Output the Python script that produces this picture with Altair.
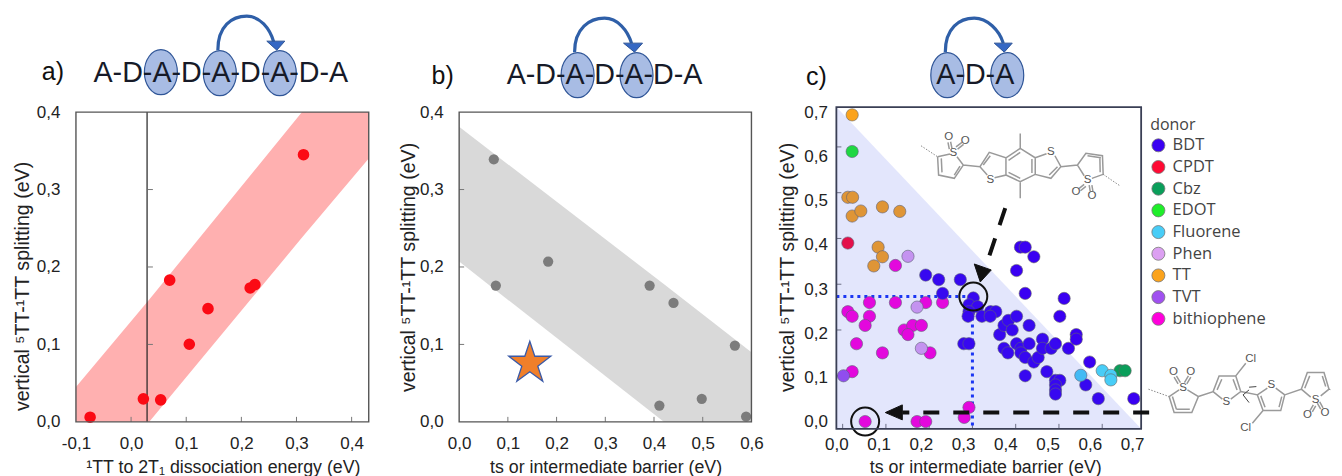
import altair as alt
import pandas as pd

FONT = "Liberation Sans"
H = 460
OA, OB, OC = 8, 390, 770
WA, WB, WC = 382, 380, 564
COMMA = "replace(replace(format(datum.value,'.1f'),'.',','),'\u2212','-')"

# panel a
a_x = [-0.0743, 0.0223, 0.0537, 0.070, 0.1056, 0.1395, 0.216, 0.2246, 0.3127]
a_y = [0.006, 0.0297, 0.0284, 0.183, 0.1002, 0.1462, 0.1729, 0.1772, 0.345]
a_band_x = [-0.1, 0.033, 0.31, 0.431]
a_band_hi = [0.045, 0.158, 0.4, 0.4]
a_band_lo = [0.0, 0.0, 0.238, 0.34]

# panel b
b_x = [0.0711, 0.0753, 0.1827, 0.391, 0.44, 0.566, 0.411, 0.498, 0.589]
b_y = [0.339, 0.176, 0.207, 0.176, 0.1535, 0.0985, 0.021, 0.0297, 0.0069]
b_band_x = [0.0, 0.42, 0.6]
b_band_hi = [0.381, 0.178, 0.09]
b_band_lo = [0.207, 0.0, 0.0]
star_x = [0.145]
star_y = [0.0757]

# panel c
donors = ["BDT", "CPDT", "Cbz", "EDOT", "Fluorene", "Phen", "TT", "TVT", "bithiophene"]
donor_colors = ["#3a00f2", "#ff0a33", "#0a9e5a", "#1fee2a", "#48cdf7", "#dca0f2", "#fba31c", "#a050f0", "#ff00dc"]
c_points = {
    "bithiophene": [(.122,.341),(.062,.260),(.122,.260),(.192,.260),(.231,.260),(.012,.240),(.022,.230),
                    (.062,.230),(.052,.210),(.142,.200),(.162,.210),(.182,.210),(.151,.190),(.032,.170),
                    (.092,.150),(.202,.150),(.022,.109),(.052,0),(.172,0),(.192,0),(.292,.031),(.281,.009)],
    "TT": [(.022,.670),(.012,.490),(.023,.490),(.022,.449),(.042,.460),(.092,.469),(.132,.459),(.082,.381),
           (.092,.360),(.072,.340)],
    "EDOT": [(.022,.590)],
    "CPDT": [(.012,.390)],
    "Phen": [(.151,.361),(.172,.250),(.182,.160)],
    "TVT": [(.002,.100)],
    "BDT": [(.192,.320),(.222,.310),(.272,.310),(.231,.280),(.302,.270),(.292,.255),(.312,.251),(.292,.240),
            (.290,.230),(.322,.230),(.342,.240),(.354,.240),(.341,.230),(.280,.170),(.292,.170),(.363,.190),
            (.373,.210),(.383,.221),(.392,.200),(.402,.230),(.431,.210),(.373,.160),(.382,.150),(.402,.170),
            (.412,.160),(.412,.150),(.422,.140),(.431,.170),(.442,.130),(.452,.140),(.462,.180),(.462,.160),
            (.482,.160),(.492,.170),(.472,.109),(.422,.100),(.492,.090),(.502,.090),(.492,.080),(.492,.069),
            (.492,.060),(.402,.330),(.411,.381),(.422,.381),(.442,.360),(.422,.280),(.512,.269),(.502,.230),
            (.522,.160),(.540,.190),(.540,.180),(.571,.130),(.562,.080),(.591,.050),(.673,.050)],
    "Cbz": [(.641,.111),(.653,.111)],
    "Fluorene": [(.5505,.101),(.600,.111),(.62,.101),(.62,.091)],
}

# decoration outlines, in reference pixels
ARC_A = "M218,50 C218,26 232,16 247,16 C260,16 270,28 274,42"
ARC_B = "M575,52 C575,28 590,18 605,18 C618,18 628,30 632,43"
ARC_C = "M946,52 C946,28 960,18 975,18 C988,18 1000,30 1004,43"
HEAD_A = [(267,41),(285,41),(277,50)]
HEAD_B = [(624,43),(643,43),(635,52)]
HEAD_C = [(995,43),(1013,43),(1005,52)]
ELL_A = [(161,72),(220,73),(280,73)]
ELL_B = [(578,75),(637,75)]
ELL_C = [(948,75),(1008,75)]

M1_O = (910, 115)
M1_BONDS = [
    [(85,125),(122,117)], [(85,125),(88,180),(135,190),(162,150),(143,125)],
    [(96,130),(98,172)], [(135,180),(152,153)],
    [(162,150),(212,155),(240,112),(290,128),(290,180),(256,188)], [(234,180),(212,155)],
    [(222,150),(243,122)], [(290,128),(333,100),(378,128),(378,178),(333,200),(290,180)],
    [(298,136),(333,112)], [(368,132),(368,174)], [(298,172),(333,190)],
    [(333,100),(333,55)], [(333,200),(333,250)],
    [(378,128),(412,116)], [(437,122),(455,155),(425,190),(378,178)], [(445,155),(420,180)],
    [(455,155),(505,150),(530,115),(580,122),(582,178),(548,190)], [(505,150),(525,182)],
    [(535,122),(575,128)], [(572,130),(573,172)],
    [(124,80),(128,100)], [(116,82),(120,102)], [(158,82),(140,95)], [(163,88),(145,102)],
    [(510,220),(525,208)], [(514,227),(530,214)], [(543,228),(540,210)], [(551,228),(548,210)],
]
M1_DOTS = [[(35,92),(85,125)], [(582,178),(632,212)]]
M1_ATOMS = [("S",132,115),("O",118,65),("O",168,77),("S",243,195),("S",425,112),("S",535,195),("O",500,230),("O",548,242)]

M2_O = (1140, 340)
M2_BONDS = [
    [(90,170),(120,150)], [(145,150),(178,170),(158,218),(105,218),(90,170)], [(112,208),(152,208)], [(100,170),(112,208)],
    [(178,170),(222,155),(240,108),(290,108),(305,155),(275,178)], [(222,155),(250,178)],
    [(234,150),(248,118)], [(282,118),(294,150)], [(290,108),(320,70)],
    [(305,155),(355,165),(372,212),(425,212),(437,165),(410,145)], [(355,165),(385,145)],
    [(365,168),(378,202)], [(420,202),(428,170)], [(372,212),(340,250)],
    [(437,165),(487,148),(505,98),(555,98),(570,148),(545,168)], [(487,148),(515,172)],
    [(497,145),(512,108)], [(550,108),(560,140)],
    [(112,108),(124,128)], [(105,112),(117,132)], [(148,108),(136,128)], [(155,112),(143,132)],
    [(513,212),(523,195)], [(520,216),(530,198)], [(545,208),(535,190)], [(552,204),(542,186)],
]
M2_CURL = [[(330,150),(312,165),(330,188)], [(330,142),(352,140)]]
M2_DOTS = [[(28,148),(90,170)], [(570,148),(577,150)]]
M2_ATOMS = [("S",132,143),("O",103,95),("O",155,95),("S",262,187),("Cl",335,58),("S",397,135),("Cl",320,265),("S",530,180),("O",505,225),("O",558,218)]

one = pd.DataFrame({"a": [0]})


def fx(px, ox):
    return px - ox


def fy(py):
    return py - 8


def poly(pts, ox, close=False):
    s = "M" + " L".join(f"{fx(x, ox):.1f},{fy(y):.1f}" for x, y in pts)
    return s + (" Z" if close else "")


def zoomed(lines, origin, ox):
    return " ".join(poly([(origin[0]+x/3, origin[1]+y/3) for x, y in l], ox) for l in lines)


def shifted(path, ox):
    out = []
    for tok in path.replace("M", "M ").replace("C", "C ").split():
        if "," in tok:
            x, y = tok.split(",")
            out.append(f"{fx(float(x), ox):.1f},{fy(float(y)):.1f}")
        else:
            out.append(tok)
    return " ".join(out)


def shape(path, **kw):
    return alt.Chart(one).mark_point(shape=path, size=4, opacity=1, **kw).encode(x=alt.value(0), y=alt.value(0))


def txt(s, px, py, ox, size, color="#111", font=FONT, align="center"):
    return alt.Chart(one).mark_text(text=s, fontSize=size, font=font, color=color, align=align, baseline="middle").encode(
        x=alt.value(fx(px, ox)), y=alt.value(fy(py)))


def ellipse(cx, cy, ox, rx=16.5, ry=22.5):
    x, y = fx(cx, ox), fy(cy)
    return f"M{x-rx},{y} A{rx},{ry} 0 1,1 {x+rx},{y} A{rx},{ry} 0 1,1 {x-rx},{y} Z"


def schematic(label, lx, ly, chain, cx, cy, ells, arc, head, ox):
    ls = [txt(label, lx, ly, ox, 25)]
    for ex, ey in ells:
        ls.append(shape(ellipse(ex, ey, ox), filled=True, fill="#a8bce4", stroke="#2f5597", strokeWidth=1.2))
    ls.append(txt(chain, cx, cy, ox, 28.7, color="#161a28"))
    ls.append(shape(shifted(arc, ox), filled=False, stroke="#2f5fa8", strokeWidth=3.2))
    ls.append(shape(poly(head, ox, True), filled=True, fill="#3568c4", stroke="#2f5597", strokeWidth=1))
    return ls


def ticks_x(vals, X, ybase):
    return alt.Chart(pd.DataFrame({"v": vals})).mark_rule(color="#777", strokeWidth=1).encode(
        x=X("v"), y=alt.value(fy(ybase)), y2=alt.value(fy(ybase)-5))


def ticks_y(vals, Y, xbase, ox):
    return alt.Chart(pd.DataFrame({"v": vals})).mark_rule(color="#777", strokeWidth=1).encode(
        y=Y("v"), x=alt.value(fx(xbase, ox)), x2=alt.value(fx(xbase, ox)+5))


TFX = 17.8
TFY = 19.6
LF = 17


def axis_x(title, tx, vals, off, pad, ty):
    return alt.Axis(title=title, values=vals, offset=off, domain=False, ticks=False, grid=False, labelExpr=COMMA,
                    labelFont=FONT, labelFontSize=LF, labelColor="#222", labelPadding=pad, labelOverlap=False,
                    labelFlush=False, titleFont=FONT, titleFontSize=TFX,
                    titleFontWeight="normal", titleColor="#222", titleX=tx, titleY=ty)


def axis_y(title, tx, ty, vals, off, pad=16):
    return alt.Axis(title=title, values=vals, offset=off, domain=False, ticks=False, grid=False, labelExpr=COMMA,
                    labelFont=FONT, labelFontSize=LF, labelColor="#222", labelPadding=pad, labelOverlap=False,
                    labelFlush=False, titleFont=FONT, titleFontSize=TFY, titleFontWeight="normal", titleColor="#222",
                    titleX=tx, titleY=ty)


def helpers(sx, sy):
    def X(f, **k):
        return alt.X(f, type="quantitative", scale=sx, axis=k.get("axis"))
    def Y(f, **k):
        return alt.Y(f, type="quantitative", scale=sy, axis=k.get("axis"))
    return X, Y


def frame(X, Y, dx, dy, color, width):
    df = pd.DataFrame({"x0": [dx[0]], "x1": [dx[1]], "y0": [dy[0]], "y1": [dy[1]]})
    return alt.Chart(df).mark_rect(fillOpacity=0, stroke=color, strokeWidth=width).encode(
        x=X("x0"), x2="x1", y=Y("y0"), y2="y1")


def holder(X, Y, dx, dy, ax, ay):
    df = pd.DataFrame({"x": dx, "y": dy})
    return alt.Chart(df).mark_point(opacity=0).encode(x=X("x", axis=ax), y=Y("y", axis=ay))


YTITLE = "vertical \u2075TT-\u00b9TT splitting (eV)"

# ------ a
dxa, dya = [-0.1, 0.431], [0, 0.4]
Xa, Ya = helpers(alt.Scale(domain=dxa, range=[fx(76, OA), fx(369, OA)], nice=False, zero=False),
                 alt.Scale(domain=dya, range=[fy(422), fy(112)], nice=False, zero=False))
band_a = alt.Chart(pd.DataFrame({"x": a_band_x, "h": a_band_hi, "l": a_band_lo})).mark_area(color="#ffb0b0").encode(
    x=Xa("x"), y=Ya("h"), y2="l")
line_a = alt.Chart(pd.DataFrame({"v": [0.029], "y0": [0], "y1": [0.4]})).mark_rule(color="#222", strokeWidth=1.2).encode(
    x=Xa("v"), y=Ya("y0"), y2="y1")
pts_a = alt.Chart(pd.DataFrame({"x": a_x, "y": a_y})).mark_point(filled=True, size=135, color="#fb0a14", opacity=1).encode(
    x=Xa("x"), y=Ya("y"))
panel_a = alt.layer(
    holder(Xa, Ya, dxa, dya,
           axis_x("\u00b9TT to 2T\u2081 dissociation energy (eV)", fx(223, OA), [-.1, 0, .1, .2, .3, .4], -(H-fy(422)), 14, 37),
           axis_y(YTITLE, -43, fy(286), [0, .1, .2, .3, .4], -fx(76, OA))),
    band_a, line_a,
    ticks_x([0, .1, .2, .3, .4], Xa, 422), ticks_y([.1, .2, .3], Ya, 148, OA), pts_a,
    frame(Xa, Ya, dxa, dya, "#555", 1.4),
    *schematic("a)", 53, 72, "A-D-A-D-A-D-A-D-A", 221, 73, ELL_A, ARC_A, HEAD_A, OA),
).resolve_axis(x="independent", y="independent").properties(width=WA, height=H)

# ------ b
dxb, dyb = [0, 0.6], [0, 0.4]
Xb, Yb = helpers(alt.Scale(domain=dxb, range=[fx(459.5, OB), fx(752, OB)], nice=False, zero=False),
                 alt.Scale(domain=dyb, range=[fy(422), fy(112)], nice=False, zero=False))
band_b = alt.Chart(pd.DataFrame({"x": b_band_x, "h": b_band_hi, "l": b_band_lo})).mark_area(color="#d9d9d9").encode(
    x=Xb("x"), y=Yb("h"), y2="l")
pts_b = alt.Chart(pd.DataFrame({"x": b_x, "y": b_y})).mark_point(filled=True, size=105, color="#7c7c7c", opacity=1).encode(
    x=Xb("x"), y=Yb("y"))
STAR = "M0,-22 L5,-7 L21,-7 L8,3 L13,18 L0,8.5 L-13,18 L-8,3 L-21,-7 L-5,-7 Z"
star = alt.Chart(pd.DataFrame({"x": star_x, "y": star_y})).mark_point(
    shape=STAR, size=4, filled=True, fill="#f07f2a", stroke="#3a5aa8", strokeWidth=1.3, opacity=1).encode(
    x=Xb("x"), y=Yb("y"))
panel_b = alt.layer(
    holder(Xb, Yb, dxb, dyb,
           axis_x("ts or intermediate barrier (eV)", fx(606, OB), [0, .1, .2, .3, .4, .5, .6], -(H-fy(422)), 14, 37),
           axis_y(YTITLE, -41, fy(267), [0, .1, .2, .3, .4], -fx(459.5, OB))),
    band_b, ticks_x([.1, .2, .3, .4, .5], Xb, 422), ticks_y([.1, .2, .3], Yb, 459.5, OB), pts_b, star,
    frame(Xb, Yb, dxb, dyb, "#555", 1.4),
    *schematic("b)", 443, 76, "A-D-A-D-A-D-A", 605, 75, ELL_B, ARC_B, HEAD_B, OB),
).resolve_axis(x="independent", y="independent").properties(width=WB, height=H)

# ------ c
dxc, dyc = [-0.0145, 0.69], [-0.016, 0.687]
Xc, Yc = helpers(alt.Scale(domain=dxc, range=[fx(837, OC), fx(1142, OC)], nice=False, zero=False),
                 alt.Scale(domain=dyc, range=[fy(429), fy(107)], nice=False, zero=False))
rows = [(d, x, y) for d, pts in c_points.items() for x, y in pts]
df_c = pd.DataFrame(rows, columns=["donor", "x", "y"])
pts_c = alt.Chart(df_c).mark_point(filled=True, size=150, opacity=1, stroke="#666", strokeWidth=0.6).encode(
    x=Xc("x"), y=Yc("y"),
    color=alt.Color("donor:N", scale=alt.Scale(domain=donors, range=donor_colors),
                    legend=alt.Legend(orient="none", legendX=1151-8, legendY=117-8, title="donor",
                                      titleFont="Open Sans", titleFontSize=16, titleFontWeight="normal",
                                      titleColor="#444", labelFont="Open Sans", labelFontSize=16.5, labelColor="#444",
                                      symbolType="circle", symbolSize=170, symbolStrokeWidth=0.8,
                                      symbolStrokeColor="#777", rowPadding=4.7, labelOffset=6, titlePadding=4)))
tri = alt.Chart(pd.DataFrame({"x": [dxc[0], dxc[1]], "h": [dyc[1], dyc[0]], "l": [dyc[0], dyc[0]]})).mark_area(
    color="#2a3ee4", opacity=0.13).encode(x=Xc("x"), y=Yc("h"), y2="l")
dot_h = alt.Chart(pd.DataFrame({"x0": [dxc[0]], "x1": [0.30], "y0": [0.273]})).mark_rule(
    color="#1a35f5", strokeWidth=3, strokeDash=[3, 4]).encode(x=Xc("x0"), x2="x1", y=Yc("y0"))
dot_v = alt.Chart(pd.DataFrame({"x0": [0.30], "y0": [0.273], "y1": [dyc[0]]})).mark_rule(
    color="#1a35f5", strokeWidth=3, strokeDash=[3, 4]).encode(x=Xc("x0"), y=Yc("y0"), y2="y1")
rings = alt.Chart(pd.DataFrame({"x": [0.302, 0.052], "y": [0.273, 0.0]})).mark_point(
    shape="circle", size=784, filled=False, color="#111", strokeWidth=2, opacity=1).encode(x=Xc("x"), y=Yc("y"))


def dash(path, w=4, d=(16, 14)):
    return shape(path, filled=False, stroke="#111", strokeWidth=w, strokeDash=list(d))


arrows = [
    dash(poly([(1006, 208), (986, 268)], OC), d=(18, 14)),
    shape(poly([(981, 282), (975, 264), (992, 270)], OC, True), filled=True, fill="#111", stroke="#111", strokeWidth=1),
    dash(poly([(1150, 412.7), (903, 412.7)], OC)),
    shape(poly([(886, 412.7), (903, 405), (903, 420)], OC, True), filled=True, fill="#111", stroke="#111", strokeWidth=1),
]


def molecule(bonds, dots, atoms, origin, extra=None):
    ls = [shape(zoomed(bonds, origin, OC), filled=False, stroke="#9a9a9a", strokeWidth=1.5)]
    ls.append(shape(zoomed(dots, origin, OC), filled=False, stroke="#888", strokeWidth=1, strokeDash=[1.5, 1.5]))
    if extra:
        ls.append(shape(zoomed(extra, origin, OC), filled=False, stroke="#444", strokeWidth=1))
    for s, x, y in atoms:
        ls.append(txt(s, origin[0]+x/3, origin[1]+y/3, OC, 11.5, color="#555"))
    return ls


# the tick labels of panel c sit on their own spacing in the reference
label_sx = alt.Scale(domain=[0, 0.7], range=[fx(837, OC), fx(1133, OC)], nice=False, zero=False)
label_sy = alt.Scale(domain=[0, 0.7], range=[fy(422), fy(112)], nice=False, zero=False)
label_axis = alt.Chart(pd.DataFrame({"u": [0, 0.7], "v": [0, 0.7]})).mark_point(opacity=0).encode(
    x=alt.X("u:Q", scale=label_sx,
            axis=axis_x("ts or intermediate barrier (eV)", fx(986, OC), [0, .1, .2, .3, .4, .5, .6, .7], -(H-fy(429)), 8, 30)),
    y=alt.Y("v:Q", scale=label_sy,
            axis=axis_y(YTITLE, -39, fy(267), [0, .1, .2, .3, .4, .5, .6, .7], -fx(837, OC), 9)))

data_c = alt.layer(
    ticks_x([0, .1, .2, .3, .4, .5, .6], Xc, 429), ticks_y([.1, .2, .3, .4, .5, .6], Yc, 837, OC),
    dot_h, dot_v, pts_c, tri, rings,
    frame(Xc, Yc, dxc, dyc, "#3a3f55", 1.8),
    *arrows,
    *molecule(M1_BONDS, M1_DOTS, M1_ATOMS, M1_O),
    *molecule(M2_BONDS, M2_DOTS, M2_ATOMS, M2_O, M2_CURL),
    *schematic("c)", 817, 77, "A-D-A", 976, 75, ELL_C, ARC_C, HEAD_C, OC),
)
panel_c = alt.layer(label_axis, data_c).resolve_scale(x="independent", y="independent").properties(width=WC, height=H)

chart = alt.hconcat(panel_a, panel_b, panel_c, spacing=0).properties(padding=0).configure_view(stroke=None)
chart.save("out.html", embed_options={"renderer": "svg", "actions": False})
